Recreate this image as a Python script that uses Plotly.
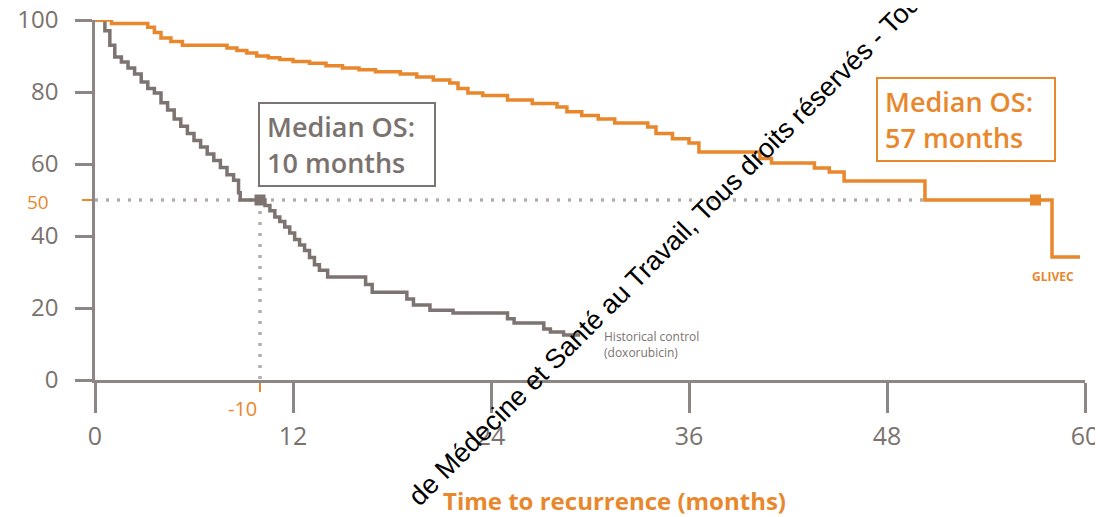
import plotly.graph_objects as go

# ---- data ----
glivec_t = [0, 1.0, 3.2, 3.6, 4.0, 4.6, 5.3, 8.0, 8.6, 9.2, 9.8, 10.5, 11.2, 12.0, 13.0, 14.0,
            15.0, 16.0, 17.0, 18.5, 19.5, 20.5, 21.5, 22.0, 22.6, 23.5, 25.0, 26.5, 28.0, 28.6,
            29.5, 30.5, 31.5, 33.5, 34.0, 35.0, 36.0, 36.6, 40.3, 41.0, 43.6, 44.5, 45.4, 50.3,
            58.0, 59.7]
glivec_s = [100, 99, 98, 96.5, 95, 94, 93, 92.2, 91.5, 90.8, 90, 89.5, 89, 88.5, 88, 87.3,
            86.7, 86.2, 85.6, 85, 84.2, 83.3, 82.5, 81, 79.7, 79, 77.8, 76.8, 75.8, 74.5,
            73.5, 72.5, 71.4, 70.3, 68.5, 67, 65.8, 63.3, 61.5, 60.3, 58.9, 57.8, 55.3, 50,
            34.2, 34.2]

hist_t = [0, 0.6, 0.9, 1.2, 1.6, 2.0, 2.4, 2.8, 3.2, 3.6, 4.0, 4.4, 4.8, 5.2, 5.6, 6.0, 6.4,
          6.8, 7.2, 7.6, 8.0, 8.4, 8.7, 8.8, 10.3, 10.6, 10.9, 11.2, 11.5, 11.8, 12.1, 12.4,
          12.7, 13.0, 13.3, 13.6, 14.1, 16.4, 16.8, 18.9, 19.3, 20.3, 21.7, 25.0, 25.4, 27.2,
          27.6, 28.4, 29.4]
hist_s = [100, 97, 93, 89.7, 88.3, 86.7, 85, 82.8, 81, 79.7, 77, 75, 72.5, 70.5, 68.5, 66.5,
          64.7, 62.8, 61, 59, 57, 55.5, 52, 50, 48.5, 47, 45.3, 44, 42.5, 40.8, 39, 37.5, 36,
          34, 32, 30.5, 28.6, 26.5, 24.4, 22.5, 20.8, 19.4, 18.6, 17, 15.8, 14.2, 13.3, 12.5,
          12.5]

median_level = 50
median_hist = 10
median_glivec = 57
glivec_hits_median = 50.3

x_ticks = [0, 12, 24, 36, 48, 60]
y_ticks = [0, 20, 40, 60, 80, 100]

ORANGE = "#E8872C"
GRAY = "#7D7370"
TEXT_GRAY = "#7A726E"
AXIS_GRAY = "#8C8684"
DOT_GRAY = "#B3AEAC"
FONT = "Open Sans"

# the page body adds an 8px offset, so the figure is 8px smaller and shifted
OFF = 8
W, H = 1103 - OFF, 517 - OFF
L, R, T, B = 95 - OFF, 18, 20 - OFF, 137


def px(xp):
    return (xp - OFF - L) / (W - L - R)


def py(yp):
    return (H - B - (yp - OFF)) / (H - T - B)


fig = go.Figure()

# reference dotted lines at the median
fig.add_trace(go.Scatter(x=[0, glivec_hits_median], y=[median_level, median_level],
                         mode="lines", line=dict(color=DOT_GRAY, width=3.5, dash="3px,8px"),
                         hoverinfo="skip", showlegend=False))
fig.add_trace(go.Scatter(x=[median_hist, median_hist], y=[median_level, 0],
                         mode="lines", line=dict(color=DOT_GRAY, width=3.5, dash="3px,8px"),
                         hoverinfo="skip", showlegend=False))

# curves
fig.add_trace(go.Scatter(x=hist_t, y=hist_s, mode="lines", line_shape="hv",
                         line=dict(color=GRAY, width=3.5), showlegend=False))
fig.add_trace(go.Scatter(x=glivec_t, y=glivec_s, mode="lines", line_shape="hv",
                         line=dict(color=ORANGE, width=3.5), showlegend=False))

# median markers
fig.add_trace(go.Scatter(x=[median_hist], y=[median_level], mode="markers",
                         marker=dict(symbol="square", size=11, color=GRAY), showlegend=False))
fig.add_trace(go.Scatter(x=[median_glivec], y=[median_level], mode="markers",
                         marker=dict(symbol="square", size=11, color=ORANGE), showlegend=False))

fig.update_layout(
    width=W, height=H,
    margin=dict(l=L, r=R, t=T, b=B),
    paper_bgcolor="white", plot_bgcolor="white",
    font=dict(family=FONT, color=TEXT_GRAY),
    xaxis=dict(range=[0, 60], tickvals=x_ticks, ticktext=[str(v) for v in x_ticks],
               automargin=False, ticklabeloverflow="allow",
               showgrid=False, zeroline=False, showline=True, linecolor=AXIS_GRAY, linewidth=2.5,
               ticks="outside", ticklen=30, tickwidth=2.5, tickcolor=AXIS_GRAY,
               tickfont=dict(size=25, color=TEXT_GRAY), ticklabelstandoff=2,
               minor=dict(tickvals=[median_hist], ticks="outside", ticklen=9, tickwidth=2,
                          tickcolor=ORANGE)),
    yaxis=dict(range=[0, 100], tickvals=y_ticks, ticktext=[str(v) for v in y_ticks],
               automargin=False, ticklabeloverflow="allow",
               showgrid=False, zeroline=False, showline=True, linecolor=AXIS_GRAY, linewidth=2.5,
               ticks="outside", ticklen=17, tickwidth=2.5, tickcolor=AXIS_GRAY,
               tickfont=dict(size=24, color=TEXT_GRAY), ticklabelstandoff=12,
               minor=dict(tickvals=[median_level], ticks="outside", ticklen=10, tickwidth=2,
                          tickcolor=ORANGE)),
)

ann = []
# orange "50" and "-10" labels
ann.append(dict(x=px(38), y=py(202), xref="paper", yref="paper", text="50", showarrow=False,
                font=dict(size=19, color=ORANGE, family=FONT, weight=500),
                xanchor="center", yanchor="middle"))
ann.append(dict(x=px(259), y=py(408), xref="paper", yref="paper", text="-10", showarrow=False,
                font=dict(size=20, color=ORANGE, family=FONT, weight=500),
                xanchor="right", yanchor="middle"))
# boxes
ann.append(dict(x=px(347), y=py(144.5), xref="paper", yref="paper",
                text="Median OS:<br>10 months", showarrow=False, align="left",
                width=160, height=67,
                font=dict(size=27, color=TEXT_GRAY, family=FONT, weight=600),
                bordercolor=GRAY, borderwidth=2, borderpad=7, bgcolor="white",
                xanchor="center", yanchor="middle"))
ann.append(dict(x=px(966), y=py(119.5), xref="paper", yref="paper",
                text="Median OS:<br>57 months", showarrow=False, align="left",
                width=162, height=67,
                font=dict(size=27, color=ORANGE, family=FONT, weight=600),
                bordercolor=ORANGE, borderwidth=2, borderpad=7, bgcolor="white",
                xanchor="center", yanchor="middle"))
# series labels
ann.append(dict(x=px(1053), y=py(276), xref="paper", yref="paper", text="GLIVEC",
                showarrow=False, font=dict(size=12, color=ORANGE, family=FONT, weight=700),
                xanchor="center", yanchor="middle"))
ann.append(dict(x=px(602), y=py(344), xref="paper", yref="paper",
                text="Historical control<br>(doxorubicin)", showarrow=False, align="left",
                font=dict(size=12, color=TEXT_GRAY, family=FONT),
                xanchor="left", yanchor="middle"))
# axis title
ann.append(dict(x=px(614), y=py(500), xref="paper", yref="paper",
                text="Time to recurrence (months)", showarrow=False,
                font=dict(size=24, color=ORANGE, family=FONT, weight=700),
                xanchor="center", yanchor="middle"))
# watermark
ann.append(dict(x=px(672), y=py(242), xref="paper", yref="paper",
                text="de Médecine et Santé au Travail, Tous droits réservés - Toute",
                showarrow=False, textangle=-45,
                font=dict(size=27, color="black", family="Liberation Sans"),
                xanchor="center", yanchor="middle"))
fig.update_layout(annotations=ann)

fig.write_html("out.html")
